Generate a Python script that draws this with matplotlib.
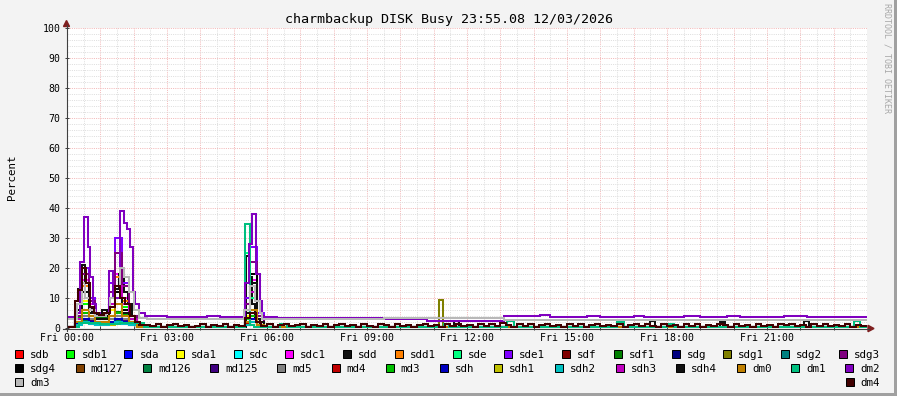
import numpy as np
import matplotlib
matplotlib.use("Agg")
import matplotlib.pyplot as plt
from matplotlib.patches import Rectangle, Polygon
from matplotlib.lines import Line2D

W, H = 897, 396
MONO = "DejaVu Sans Mono"

# series in legend (and drawing) order
names = ["sdb", "sdb1", "sda", "sda1", "sdc", "sdc1", "sdd", "sdd1", "sde", "sde1",
         "sdf", "sdf1", "sdg", "sdg1", "sdg2", "sdg3", "sdg4", "md127", "md126", "md125",
         "md5", "md4", "md3", "sdh", "sdh1", "sdh2", "sdh3", "sdh4", "dm0", "dm1",
         "dm2", "dm3", "dm4"]
colors = ["#FF0000", "#00FF00", "#0000FF", "#FFFF00", "#00FFFF", "#FF00FF", "#111111", "#FF8000",
          "#00FF80", "#8000FF", "#800000", "#008000", "#000080", "#808000", "#008080", "#800080",
          "#000000", "#804000", "#008040", "#400080", "#808080", "#C00000", "#00C000", "#0000C0",
          "#C0C000", "#00C0C0", "#C000C0", "#101010", "#C08000", "#00C080", "#8000C0", "#B8B8B8",
          "#400000"]

# hours of day where the quiet devices change value
CLUSTER_T = [0, 0.25, 0.45, 0.65, 0.85, 1.25, 1.45, 1.65, 1.85, 2.1, 5.35, 5.5, 5.7, 5.9, 11.17, 11.29]
sdb   = [0.2, 2, 4, 3, 1.5, 2, 3, 4, 2, 0.3, 2, 5, 1, 0.2, 0.2, 0.2]
sdb1  = [0.3, 6, 8, 5, 3, 4, 5, 7, 3, 0.3, 3, 6, 2, 0.2, 0.2, 0.2]
sda   = [0.2, 3, 5, 3, 2, 2, 4, 3, 2, 0.2, 2, 4, 1, 0.2, 0.2, 0.2]
sda1  = [0.2, 5, 9, 4, 3, 6, 8, 5, 3, 0.3, 4, 8, 2, 0.2, 0.2, 0.2]
sdc   = [0.2, 2, 3, 2, 1, 2, 3, 2, 1, 0.2, 1, 3, 1, 0.2, 0.2, 0.2]
sdc1  = [0.2, 4, 16, 8, 4, 12, 18, 10, 4, 0.3, 6, 16, 3, 0.2, 0.2, 0.2]
sdd1  = [0.2, 5, 14, 7, 3, 10, 17, 9, 3, 0.3, 5, 14, 2, 0.2, 0.2, 0.2]
sde   = [0.2, 2, 4, 3, 2, 3, 4, 3, 2, 0.2, 25, 10, 1, 0.2, 0.2, 0.2]
sde1  = [0.3, 4, 20, 10, 4, 15, 30, 15, 4, 0.3, 10, 27, 5, 0.3, 0.3, 0.3]
sdf   = [0.2, 2, 6, 4, 2, 3, 5, 3, 1, 0.2, 1, 3, 1, 0.2, 0.2, 0.2]
sdf1  = [0.3, 3, 5, 4, 3.5, 4, 5.5, 5, 3, 0.3, 2, 4, 1, 0.3, 0.3, 0.3]
sdg   = [0.2, 1, 2, 1.5, 1, 1, 2, 1.5, 1, 0.2, 1, 2, 0.5, 0.2, 0.2, 0.2]
sdg1  = [0.1, 1, 2, 1.5, 1, 1, 2, 1.5, 1, 0.1, 1, 2, 0.5, 0.1, 9.3, 0.1]
sdg2  = [0.2, 1.5, 2.5, 2, 1.5, 2, 2.5, 2, 1, 0.2, 1, 2, 0.5, 0.2, 0.2, 0.2]
sdg3  = [0.3, 4, 18, 9, 4, 12, 25, 14, 4, 0.3, 8, 22, 4, 0.3, 0.3, 0.3]
sdg4  = [0.2, 6, 15, 6, 4, 8, 12, 6, 3, 0.2, 6, 18, 2, 0.2, 0.2, 0.2]
md127 = [0.2, 1, 2, 1.5, 1, 1, 2, 1.5, 1, 0.2, 1, 2, 0.5, 0.2, 0.2, 0.2]
md126 = [0.5, 2, 2.5, 2, 1.5, 2, 2.5, 2, 1.5, 0.5, 1, 2, 0.5, 0.3, 0.3, 0.3]
md125 = [0.3, 2, 3, 2.5, 2, 2, 3, 2.5, 2, 0.3, 1.5, 3, 1, 0.3, 0.3, 0.3]
md5   = [0.2, 2, 4, 3, 2, 3, 4, 3, 2, 0.2, 2, 5, 1, 0.2, 0.2, 0.2]
md4   = [0.2, 1.5, 3, 2, 1.5, 2, 3, 2, 1, 0.2, 1.5, 3, 1, 0.2, 0.2, 0.2]
md3   = [0.4, 3.5, 5, 4, 3, 4, 5, 4.5, 3, 0.4, 2, 4, 1, 0.3, 0.3, 0.3]
sdh   = [0.2, 1.5, 3, 2, 1.5, 2, 3, 2, 1, 0.2, 1, 3, 0.5, 0.2, 0.2, 0.2]
sdh1  = [0.1, 1, 2, 1.5, 1, 1, 2, 1.5, 1, 0.1, 1, 2, 0.5, 0.1, 0.1, 0.1]
sdh2  = [0.2, 1, 2, 1.5, 1, 1.5, 2, 1.5, 1, 0.2, 1, 2, 0.5, 0.2, 0.2, 0.2]
sdh3  = [0.2, 3, 12, 6, 3, 8, 14, 8, 3, 0.2, 5, 12, 2, 0.2, 0.2, 0.2]
sdh4  = [0.2, 5, 12, 5, 3, 7, 10, 5, 2, 0.2, 5, 15, 2, 0.2, 0.2, 0.2]
dm0   = [0.2, 2, 6, 4, 2, 4, 8, 4, 2, 0.2, 2, 6, 1, 0.2, 0.2, 0.2]

# busier devices, each with its own change times (hours)
sdd_t = [0, 0.25, 0.33, 0.45, 0.55, 0.65, 0.75, 0.9, 1.05, 1.2, 1.3, 1.45, 1.55, 1.7, 1.82, 1.95,
         2.1, 2.3, 5.38, 5.47, 5.55, 5.65, 5.8, 11.6, 11.75, 17.5, 17.65, 19.6, 19.75, 22.1, 22.25]
sdd_v = [0.3, 9, 13, 21, 14, 7, 5, 4, 6, 5, 10, 13, 18, 12, 8, 4,
         1, 0.3, 24, 17, 8, 3, 0.3, 2.5, 0.3, 2.5, 0.3, 2, 0.3, 2.3, 0.3]

dm1_t = [0, 0.35, 1.0, 1.6, 2.3, 5.35, 5.5, 5.6, 6.4, 6.6, 11.3, 11.45, 13.2, 13.4, 16.5, 16.7,
         18.0, 18.2, 23.6, 23.8]
dm1_v = [0.3, 1.6, 1.2, 1.8, 0.3, 34.7, 1.0, 0.3, 1.5, 0.3, 1.2, 0.3, 2.2, 0.4, 2.0, 0.3,
         1.2, 0.3, 2.5, 0.4]

dm2_t = [0, 0.30, 0.40, 0.50, 0.62, 0.70, 0.78, 0.87, 1.00, 1.17, 1.25, 1.38, 1.58, 1.70, 1.80,
         1.88, 1.98, 2.05, 2.15, 2.35, 3.0, 3.5, 4.2, 4.6, 5.33, 5.45, 5.55, 5.68, 5.78, 5.85,
         6.3, 7.0, 8.0, 9.5, 10.8, 11.6, 13.1, 14.2, 14.5, 15.6, 16.0, 17.0, 17.3, 18.5, 19.0,
         19.8, 20.2, 21.5, 22.2, 23.0, 23.5]
dm2_v = [3.6, 5, 22, 37, 27, 17, 8, 5, 4, 5, 19, 10, 39, 35, 33,
         27, 12, 8, 5, 4, 3.8, 3.6, 3.9, 3.6, 15, 28, 38, 18, 9, 3.7,
         3.3, 3.5, 3.2, 3.0, 2.5, 2.2, 3.9, 4.2, 3.8, 4.1, 3.8, 4.0, 3.7, 4.1, 3.8,
         4.0, 3.7, 3.9, 3.6, 3.8, 3.6]

dm3_t = [0, 0.30, 0.45, 0.55, 0.70, 0.85, 1.17, 1.30, 1.45, 1.58, 1.72, 1.85, 2.00, 2.15, 2.40,
         5.30, 5.50, 5.65, 5.78, 5.85, 6.5, 8.0, 9.5, 13.1, 16.0, 20.0]
dm3_v = [3.0, 8, 15, 10, 6, 4, 5, 10, 14, 20, 17, 12, 6, 3.5, 3.0,
         6, 14, 9, 5, 3.0, 2.9, 3.1, 3.2, 2.6, 2.8, 2.6]

dm4_head_t = [0, 0.25, 0.33, 0.45, 0.58, 0.68, 0.8, 0.95, 1.1, 1.3, 1.45, 1.6, 1.75, 1.9, 2.05, 2.2]
dm4_head_v = [0.5, 9, 12.7, 20, 15, 7, 5, 4.5, 5, 7, 14, 10, 8, 4, 2, 1]
# 10 minute samples from 02:30 to 24:00
dm4_tail = [0.6, 1.2, 0.5, 0.9, 1.3, 0.6, 1.1, 0.4, 0.8, 1.2, 0.5, 1.0,
            0.6, 1.3, 0.5, 1.1, 0.8, 3.5, 5.0, 2.0, 0.7, 1.2, 0.5, 1.0,
            1.3, 0.6, 0.9, 1.2, 0.4, 1.1, 0.7, 1.3, 0.5, 1.0, 1.2, 0.6,
            1.1, 0.5, 1.3, 0.8, 0.4, 1.2, 0.9, 0.5, 1.3, 0.7, 1.1, 0.4,
            1.0, 1.3, 0.6, 0.9, 0.5, 1.2, 0.7, 1.4, 0.6, 1.0, 0.5, 1.2,
            0.8, 1.3, 0.6, 1.6, 1.1, 0.5, 1.2, 0.7, 1.3, 0.5, 0.9, 1.2,
            0.6, 1.1, 0.4, 1.3, 0.8, 1.2, 0.5, 1.0, 1.3, 0.6, 1.1, 0.7,
            1.3, 0.5, 0.9, 1.2, 0.6, 1.4, 0.8, 0.5, 1.2, 0.7, 1.1, 0.4,
            1.2, 0.8, 1.3, 0.5, 1.0, 0.6, 1.3, 0.9, 0.5, 1.2, 0.7, 1.1,
            0.5, 1.3, 0.8, 1.1, 0.4, 1.2, 0.9, 1.3, 0.6, 1.0, 0.5, 1.2,
            0.7, 1.3, 0.6, 1.1, 0.8, 1.2, 0.5, 1.0, 0.6]

x_labels = ["Fri 00:00", "Fri 03:00", "Fri 06:00", "Fri 09:00",
            "Fri 12:00", "Fri 15:00", "Fri 18:00", "Fri 21:00"]
title = "charmbackup DISK Busy 23:55.08 12/03/2026"


def fx(px):
    return px / W


def fy(py):
    return 1 - py / H


quiet = {"sdb": sdb, "sdb1": sdb1, "sda": sda, "sda1": sda1, "sdc": sdc, "sdc1": sdc1,
         "sdd1": sdd1, "sde": sde, "sde1": sde1, "sdf": sdf, "sdf1": sdf1, "sdg": sdg,
         "sdg1": sdg1, "sdg2": sdg2, "sdg3": sdg3, "sdg4": sdg4, "md127": md127,
         "md126": md126, "md125": md125, "md5": md5, "md4": md4, "md3": md3, "sdh": sdh,
         "sdh1": sdh1, "sdh2": sdh2, "sdh3": sdh3, "sdh4": sdh4, "dm0": dm0}
dm4_t = dm4_head_t + list(2.5 + np.arange(len(dm4_tail)) / 6)
dm4_v = dm4_head_v + dm4_tail
busy = {"sdd": (sdd_t, sdd_v), "dm1": (dm1_t, dm1_v), "dm2": (dm2_t, dm2_v),
        "dm3": (dm3_t, dm3_v), "dm4": (dm4_t, dm4_v)}

fig = plt.figure(figsize=(W / 100, H / 100), dpi=100, facecolor="#F3F3F3")
ax = fig.add_axes([fx(67), fy(328), 800 / W, 300 / H])
ax.set_facecolor("white")
ax.set_xlim(0, 24)
ax.set_ylim(0, 100)

# grid: minor every 30 min / 2 %, major every hour / 10 %, dotted
for h in np.arange(0.5, 24, 0.5):
    major = float(h).is_integer()
    ax.axvline(h, color="#F3B9B9" if major else "#DEDEDE", lw=0.72,
               ls=(0, (1, 1.2)), zorder=0.5)
for p in range(2, 101, 2):
    major = p % 10 == 0
    ax.axhline(p, color="#F3B9B9" if major else "#DEDEDE", lw=0.72,
               ls=(0, (1, 1.2)), zorder=0.5)

for name, col in zip(names, colors):
    if name in busy:
        t, v = busy[name]
    else:
        t, v = CLUSTER_T, quiet[name]
    ax.plot(list(t) + [24], list(v) + [v[-1]], drawstyle="steps-post", color=col,
            lw=1.45, solid_joinstyle="miter", zorder=2)

for s in ax.spines.values():
    s.set_visible(False)
ax.set_xticks(np.arange(0, 24, 1))
ax.set_xticklabels([x_labels[i // 3] if i % 3 == 0 else "" for i in range(24)])
ax.set_yticks(np.arange(0, 101, 10))
ax.set_yticklabels([str(p) for p in range(0, 101, 10)])
ax.tick_params(direction="inout", length=2.9, width=0.72, color="#404040",
               labelsize=7.1, labelcolor="black")
ax.tick_params(axis="y", pad=3.2)
ax.tick_params(axis="x", pad=2.4)
for lab in ax.get_xticklabels() + ax.get_yticklabels():
    lab.set_family(MONO)

# axes lines with arrow heads
fig.add_artist(Line2D([fx(66.5), fx(66.5)], [fy(331), fy(25)], color="#404040", lw=0.8))
fig.add_artist(Line2D([fx(63), fx(869)], [fy(328.5), fy(328.5)], color="#404040", lw=0.8))
fig.add_artist(Polygon([(fx(66.5), fy(20.5)), (fx(63.5), fy(26.5)), (fx(69.5), fy(26.5))],
                       closed=True, color="#7F1F1F", transform=fig.transFigure))
fig.add_artist(Polygon([(fx(874), fy(328.5)), (fx(868), fy(325.3)), (fx(868), fy(331.7))],
                       closed=True, color="#7F1F1F", transform=fig.transFigure))

fig.text(fx(448.5), fy(23.3), title, family=MONO, fontsize=9.6, ha="center", va="baseline")
fig.text(fx(12), fy(177), "Percent", family=MONO, fontsize=7.8, rotation=90,
         ha="center", va="center")
fig.text(fx(886.5), fy(58), "RRDTOOL / TOBI OETIKER", family=MONO, fontsize=6,
         rotation=270, ha="center", va="center", color="#A8A8A8")

# legend, justified rows like rrdtool
rows = [list(range(0, 16)), list(range(16, 31)), [31, 32]]
baselines = [358.3, 372.3, 386.3]
left, right = 15, 880
for row, base in zip(rows, baselines):
    widths = [15 + len(names[i]) * 6.5 for i in row]
    gap = (right - left - sum(widths)) / (len(row) - 1)
    x = left
    for i, w in zip(row, widths):
        fig.add_artist(Rectangle((fx(x), fy(base)), 8 / W, 8 / H, transform=fig.transFigure,
                                 facecolor=colors[i], edgecolor="black", lw=0.72))
        fig.text(fx(x + 15), fy(base), names[i], family=MONO, fontsize=7.8, va="baseline")
        x += w + gap

# frame shading
fig.add_artist(Rectangle((fx(894), 0), 3 / W, 1, transform=fig.transFigure,
                         facecolor="#A0A0A0", edgecolor="none"))
fig.add_artist(Rectangle((0, 0), 1, 3 / H, transform=fig.transFigure,
                         facecolor="#A0A0A0", edgecolor="none"))

fig.savefig("out.png", dpi=100, facecolor=fig.get_facecolor())
